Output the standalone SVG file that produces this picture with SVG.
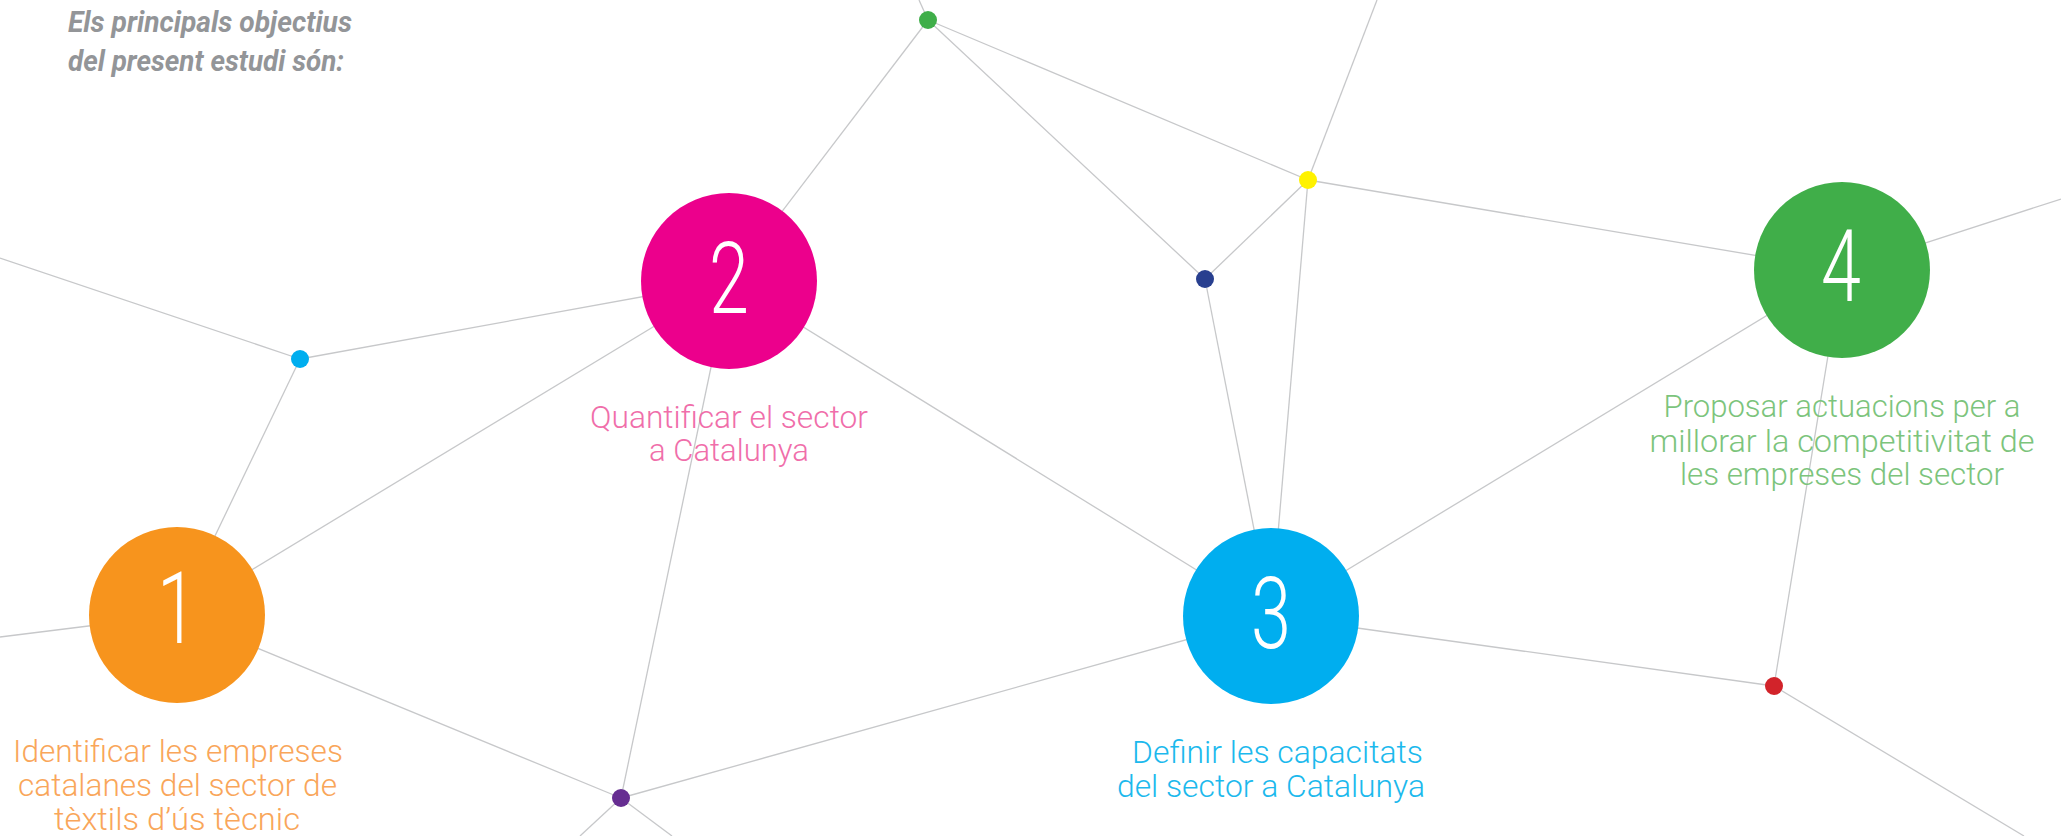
<svg xmlns="http://www.w3.org/2000/svg" width="2061" height="836" viewBox="0 0 2061 836">
<style>
.edge{stroke:#c7c8ca;stroke-width:1.3;fill:none}
.num{font-family:Roboto,"Liberation Sans",sans-serif;font-weight:300;font-size:100px;fill:#ffffff;text-anchor:middle}
.lbl{font-family:Roboto,"Liberation Sans",sans-serif;font-weight:300;font-size:32px;text-anchor:middle}
.hdr{font-family:Roboto,"Liberation Sans",sans-serif;font-weight:700;font-style:italic;font-size:30px;fill:#939598}
</style>
<rect width="2061" height="836" fill="#ffffff"/>
<g id="connectors">
<line class="edge" x1="928" y1="20" x2="919" y2="0"/>
<line class="edge" x1="928" y1="20" x2="729" y2="281"/>
<line class="edge" x1="928" y1="20" x2="1205" y2="279"/>
<line class="edge" x1="928" y1="20" x2="1308" y2="180"/>
<line class="edge" x1="1308" y1="180" x2="1377" y2="0"/>
<line class="edge" x1="1308" y1="180" x2="1205" y2="279"/>
<line class="edge" x1="1308" y1="180" x2="1271" y2="616"/>
<line class="edge" x1="1205" y1="279" x2="1271" y2="616"/>
<line class="edge" x1="1308" y1="180" x2="1842" y2="270"/>
<line class="edge" x1="1842" y1="270" x2="2061" y2="199"/>
<line class="edge" x1="1842" y1="270" x2="1271" y2="616"/>
<line class="edge" x1="1842" y1="270" x2="1774" y2="686"/>
<line class="edge" x1="1774" y1="686" x2="1271" y2="616"/>
<line class="edge" x1="1774" y1="686" x2="2024" y2="836"/>
<line class="edge" x1="1271" y1="616" x2="621" y2="798"/>
<line class="edge" x1="729" y1="281" x2="1271" y2="616"/>
<line class="edge" x1="729" y1="281" x2="621" y2="798"/>
<line class="edge" x1="729" y1="281" x2="300" y2="359"/>
<line class="edge" x1="729" y1="281" x2="177" y2="615"/>
<line class="edge" x1="300" y1="359" x2="0" y2="258"/>
<line class="edge" x1="300" y1="359" x2="177" y2="615"/>
<line class="edge" x1="177" y1="615" x2="0" y2="637"/>
<line class="edge" x1="177" y1="615" x2="621" y2="798"/>
<line class="edge" x1="621" y1="798" x2="580" y2="836"/>
<line class="edge" x1="621" y1="798" x2="672" y2="836"/>
</g>
<g id="header">
<text class="hdr" x="68" y="32" textLength="284" lengthAdjust="spacingAndGlyphs">Els principals objectius</text>
<text class="hdr" x="68" y="71" textLength="276" lengthAdjust="spacingAndGlyphs">del present estudi són:</text>
</g>
<g id="dot-green"><circle cx="928" cy="20" r="9" fill="#3fae49"/></g>
<g id="dot-navy"><circle cx="1205" cy="279" r="9" fill="#283f8f"/></g>
<g id="dot-yellow"><circle cx="1308" cy="180" r="9" fill="#fff200"/></g>
<g id="dot-lightblue"><circle cx="300" cy="359" r="9" fill="#00aeef"/></g>
<g id="dot-purple"><circle cx="621" cy="798" r="9" fill="#662d91"/></g>
<g id="dot-red"><circle cx="1774" cy="686" r="9" fill="#d2232a"/></g>
<g id="node1">
<circle cx="177" cy="615" r="88" fill="#f7941d"/>
<text class="num" transform="translate(177,643) scale(0.72,1)">1</text>
<g class="lbl" fill="#f9a65a">
<text class="lbl" x="178" y="762" textLength="330" lengthAdjust="spacingAndGlyphs">Identificar les empreses</text>
<text class="lbl" x="177.5" y="796" textLength="319" lengthAdjust="spacingAndGlyphs">catalanes del sector de</text>
<text class="lbl" x="177" y="830" textLength="246" lengthAdjust="spacingAndGlyphs">tèxtils d’ús tècnic</text>
</g>
</g>
<g id="node2">
<circle cx="729" cy="281" r="88" fill="#ec008c"/>
<text class="num" transform="translate(729,313) scale(0.72,1)">2</text>
<g fill="#f06eaa">
<text class="lbl" x="729" y="428" textLength="278" lengthAdjust="spacingAndGlyphs">Quantificar el sector</text>
<text class="lbl" x="729" y="461" textLength="160" lengthAdjust="spacingAndGlyphs">a Catalunya</text>
</g>
</g>
<g id="node3">
<circle cx="1271" cy="616" r="88" fill="#00aeef"/>
<text class="num" transform="translate(1271,648) scale(0.72,1)">3</text>
<g fill="#1cb9ed">
<text class="lbl" x="1277.5" y="763" textLength="291" lengthAdjust="spacingAndGlyphs">Definir les capacitats</text>
<text class="lbl" x="1271" y="797" textLength="308" lengthAdjust="spacingAndGlyphs">del sector a Catalunya</text>
</g>
</g>
<g id="node4">
<circle cx="1842" cy="270" r="88" fill="#40ae49"/>
<text class="num" transform="translate(1841,301) scale(0.72,1)">4</text>
<g fill="#7cc47c">
<text class="lbl" x="1842" y="417" textLength="357" lengthAdjust="spacingAndGlyphs">Proposar actuacions per a</text>
<text class="lbl" x="1842" y="452" textLength="385" lengthAdjust="spacingAndGlyphs">millorar la competitivitat de</text>
<text class="lbl" x="1842" y="485" textLength="324" lengthAdjust="spacingAndGlyphs">les empreses del sector</text>
</g>
</g>
</svg>
